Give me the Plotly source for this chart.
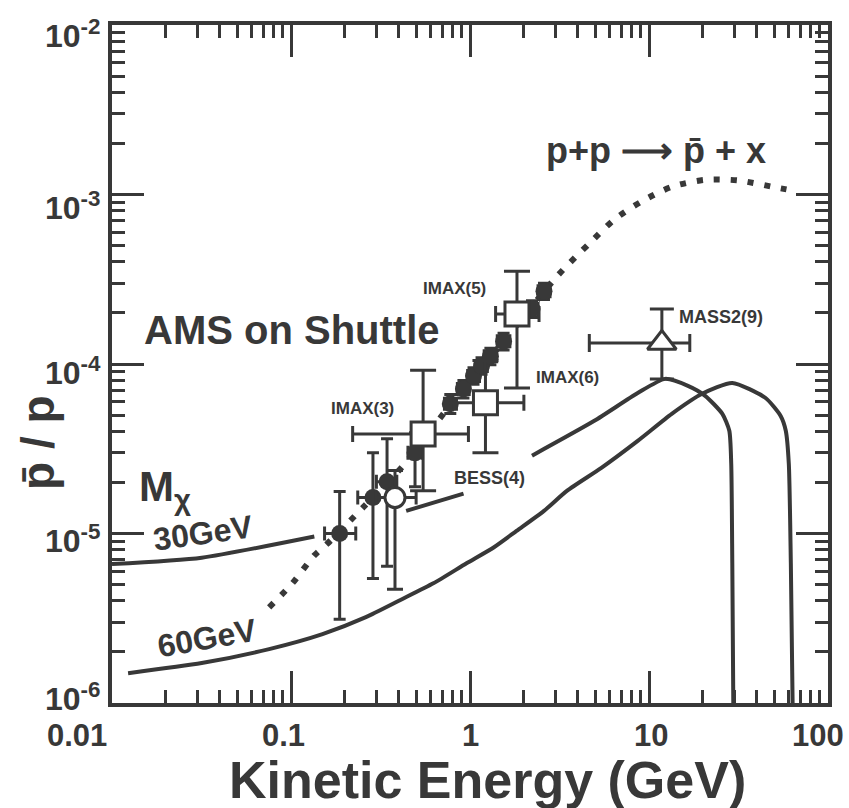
import math
import plotly.graph_objects as go

INK = "#383838"
FONT = "Liberation Sans, Arial, sans-serif"

# ---------------- data ----------------
# AMS on Shuttle projection (filled circles)
ams_E = [0.187, 0.287, 0.344, 0.493, 0.776, 0.919, 1.046, 1.16, 1.30, 1.54, 2.22, 2.59]
ams_r = [1.0e-5, 1.63e-5, 2.02e-5, 2.99e-5, 5.82e-5, 7.13e-5, 8.5e-5, 9.73e-5, 1.11e-4, 1.36e-4, 2.11e-4, 2.69e-4]
ams_r_hi = [1.77e-5, 2.99e-5, 3.62e-5, 3.93e-5, 6.6e-5, 8.0e-5, 9.5e-5, 1.09e-4, 1.24e-4, 1.52e-4, 2.36e-4, 3.0e-4]
ams_r_lo = [3.12e-6, 5.43e-6, 6.4e-6, 1.89e-5, 5.1e-5, 6.3e-5, 7.6e-5, 8.7e-5, 9.9e-5, 1.21e-4, 1.88e-4, 2.4e-4]
ams_E_lo = [0.154, 0.236, 0.30, 0.45, 0.72, 0.85, 0.97, 1.07, 1.20, 1.42, 2.05, 2.40]
ams_E_hi = [0.23, 0.35, 0.39, 0.54, 0.84, 0.99, 1.13, 1.25, 1.41, 1.67, 2.40, 2.80]

# IMAX (open squares): IMAX(3), IMAX(6), IMAX(5)
imax_E = [0.547, 1.22, 1.83]
imax_r = [3.87e-5, 5.9e-5, 1.97e-4]
imax_r_hi = [9.2e-5, 1.05e-4, 3.52e-4]
imax_r_lo = [1.79e-5, 2.99e-5, 7.23e-5]
imax_E_lo = [0.221, 0.78, 1.39]
imax_E_hi = [0.98, 2.0, 2.43]

# BESS(4) (open circle)
bess_E = [0.381]
bess_r = [1.63e-5]
bess_r_hi = [2.35e-5]
bess_r_lo = [4.69e-6]
bess_E_lo = [0.30]
bess_E_hi = [0.50]

# MASS2(9) (open triangle)
mass_E = [11.8]
mass_r = [1.33e-4]
mass_r_hi = [2.11e-4]
mass_r_lo = [8.17e-5]
mass_E_lo = [4.64]
mass_E_hi = [16.9]

# secondary production p+p -> pbar + x (dotted)
sec_E = [0.0755, 0.1017, 0.135, 0.16, 0.252, 0.423, 0.807, 1.54, 3.07, 4.65, 6.41, 9.1, 13.4, 20.6, 31.6, 49.1, 62.0]
sec_r = [3.67e-6, 5.08e-6, 7.43e-6, 8.73e-6, 1.42e-5, 2.51e-5, 6.05e-5, 1.36e-4, 3.3e-4, 5.15e-4, 7.13e-4,
         9.1e-4, 1.11e-3, 1.22e-3, 1.21e-3, 1.11e-3, 1.06e-3]

# neutralino annihilation, M = 30 GeV (gaps where labels / points sit)
m30_E = [0.01, 0.0317, 0.135, None, 0.44, 0.92, None, 2.22, 4.95, 8.65, 12.3, 16.5, 20.6, 25.7, 28.1, 28.8, 29.2, 29.6]
m30_r = [6.6e-6, 7.2e-6, 9.6e-6, None, 1.36e-5, 1.72e-5, None, 2.88e-5, 4.62e-5, 6.74e-5, 8.17e-5, 7.43e-5,
         6.49e-5, 5.08e-5, 4.04e-5, 2.58e-5, 6.67e-6, 9e-7]

# neutralino annihilation, M = 60 GeV
m60_E = [0.0123, 0.0317, 0.0755, 0.150, 0.262, 0.406, 0.624, 0.956, 1.355, 1.83, 2.59, 3.49, 5.42, 8.65, 13.4,
         19.8, 29.2, 44.8, 54.4, 58.1, 60.4, 62.0, 63.5]
m60_r = [1.5e-6, 1.72e-6, 2.08e-6, 2.55e-6, 3.21e-6, 4.04e-6, 5.08e-6, 6.67e-6, 8.27e-6, 1.04e-5, 1.36e-5, 1.79e-5,
         2.44e-5, 3.52e-5, 5.08e-5, 6.67e-5, 7.73e-5, 6.3e-5, 4.94e-5, 4.04e-5, 2.58e-5, 6.67e-6, 9e-7]

x_ticks = [0.01, 0.1, 1, 10, 100]
x_ticktext = ["0.01", "0.1", "1", "10", "100"]
y_ticks = [1e-6, 1e-5, 1e-4, 1e-3, 1e-2]
y_ticktext = ["10<sup>-6</sup>", "10<sup>-5</sup>", "10<sup>-4</sup>", "10<sup>-3</sup>", "10<sup>-2</sup>"]
x_minor = [m * 10.0 ** k for k in range(-2, 2) for m in range(2, 10)]
y_minor = [m * 10.0 ** k for k in range(-6, -2) for m in range(2, 10)]

# label nudges (pixels) to mimic the hand-set tick labels of the original
x_label_shift = [-35, -8, 0, 2, -10]
y_label_shift = [6, -5, -7, -11, -9]

# plot-area geometry in pixels
L, R, T, B = 112, 828, 25, 703
W, H = 849, 808


def up(hi, v):
    return [h - a for h, a in zip(hi, v)]


def down(lo, v):
    return [a - l for l, a in zip(lo, v)]


fig = go.Figure()

fig.add_trace(go.Scatter(x=m30_E, y=m30_r, mode="lines", connectgaps=False, name="M 30 GeV",
                         line=dict(color=INK, width=4, shape="spline", smoothing=0.6), hoverinfo="skip"))
fig.add_trace(go.Scatter(x=m60_E, y=m60_r, mode="lines", name="M 60 GeV",
                         line=dict(color=INK, width=4, shape="spline", smoothing=0.6), hoverinfo="skip"))
fig.add_trace(go.Scatter(x=sec_E, y=sec_r, mode="lines", name="p+p secondary",
                         line=dict(color=INK, width=6, dash="6px,11px", shape="spline", smoothing=0.8),
                         hoverinfo="skip"))

err_common = dict(type="data", symmetric=False, color=INK, thickness=3)

fig.add_trace(go.Scatter(
    x=ams_E, y=ams_r, mode="markers", name="AMS on Shuttle",
    marker=dict(symbol="circle", size=17, color=INK, line=dict(width=0)),
    error_y=dict(array=up(ams_r_hi, ams_r), arrayminus=down(ams_r_lo, ams_r), width=6, **err_common),
    error_x=dict(array=up(ams_E_hi, ams_E), arrayminus=down(ams_E_lo, ams_E), width=7, **err_common),
))
fig.add_trace(go.Scatter(
    x=bess_E, y=bess_r, mode="markers", name="BESS",
    marker=dict(symbol="circle", size=20, color="white", line=dict(width=3, color=INK)),
    error_y=dict(array=up(bess_r_hi, bess_r), arrayminus=down(bess_r_lo, bess_r), width=8, **err_common),
    error_x=dict(array=up(bess_E_hi, bess_E), arrayminus=down(bess_E_lo, bess_E), width=7, **err_common),
))
fig.add_trace(go.Scatter(
    x=imax_E, y=imax_r, mode="markers", name="IMAX",
    marker=dict(symbol="square", size=24, color="white", line=dict(width=3, color=INK)),
    error_y=dict(array=up(imax_r_hi, imax_r), arrayminus=down(imax_r_lo, imax_r), width=13, **err_common),
    error_x=dict(array=up(imax_E_hi, imax_E), arrayminus=down(imax_E_lo, imax_E), width=8, **err_common),
))
fig.add_trace(go.Scatter(
    x=mass_E, y=mass_r, mode="markers", name="MASS2",
    marker=dict(symbol="triangle-up", size=25, color="white", line=dict(width=3, color=INK)),
    error_y=dict(array=up(mass_r_hi, mass_r), arrayminus=down(mass_r_lo, mass_r), width=12, **err_common),
    error_x=dict(array=up(mass_E_hi, mass_E), arrayminus=down(mass_E_lo, mass_E), width=9, **err_common),
))

axis_common = dict(
    type="log", showgrid=False, zeroline=False, showline=True, linecolor=INK, linewidth=3.5,
    mirror="ticks", ticks="inside", ticklen=32, tickwidth=2.5, tickcolor=INK, showticklabels=False,
    tickfont=dict(family=FONT, size=31, color=INK),
    title=dict(text="", font=dict(family=FONT, size=30, color=INK)),
)

fig.update_xaxes(range=[-2, 2], tickmode="array", tickvals=x_ticks,
                 minor=dict(tickmode="array", tickvals=x_minor, ticks="inside", ticklen=13, tickwidth=2.5,
                            tickcolor=INK),
                 **axis_common)
fig.update_yaxes(range=[-6, -2], tickmode="array", tickvals=y_ticks,
                 minor=dict(tickmode="array", tickvals=y_minor, ticks="inside", ticklen=13, tickwidth=2.5,
                            tickcolor=INK),
                 **axis_common)

for v, t, s in zip(x_ticks, x_ticktext, x_label_shift):
    fig.add_annotation(text=t, x=math.log10(v), xref="x", y=0, yref="paper", yanchor="top", xanchor="center",
                       yshift=-13, xshift=s, showarrow=False,
                       font=dict(family=FONT, size=31, color=INK, weight="bold"))
for v, t, s in zip(y_ticks, y_ticktext, y_label_shift):
    fig.add_annotation(text=t, x=0, xref="paper", y=math.log10(v), yref="y", xanchor="right", yanchor="middle",
                       xshift=-9, yshift=s, showarrow=False,
                       font=dict(family=FONT, size=32, color=INK, weight="bold"))


def lx(xp):
    # pixel column -> log10(E) on the x axis
    return -2 + 4.0 * (xp - L) / float(R - L)


def ly(yp):
    # pixel row -> log10(ratio) on the y axis
    return -6 + 4.0 * (B - yp) / float(B - T)


def label(text, x, y, size, angle=None, xanchor="center"):
    kw = dict(text=text, x=lx(x), y=ly(y), xref="x", yref="y", showarrow=False,
              xanchor=xanchor, yanchor="middle",
              font=dict(family=FONT, size=size, color=INK, weight="bold"))
    if angle is not None:
        kw["textangle"] = angle
    fig.add_annotation(**kw)


label("AMS on Shuttle", 292, 330, 40)
label("M<sub>χ</sub>", 137, 489, 42, xanchor="left")
label("30GeV", 203, 533, 32, angle=-8)
label("60GeV", 207, 638, 32, angle=-10)
label("IMAX(5)", 454, 288, 17)
label("IMAX(6)", 567, 377, 17)
label("IMAX(3)", 362, 408, 17)
label("BESS(4)", 489, 478, 18)
label("MASS2(9)", 721, 317, 18)
label("p+p \u27f6 p\u0304 + x", 656, 150, 36)

# axis titles (outside the plotting area)
fig.add_annotation(text="Kinetic Energy (GeV)", x=(487 - L) / float(R - L), y=(B - 780) / float(B - T),
                   xref="paper", yref="paper", showarrow=False, xanchor="center", yanchor="middle",
                   font=dict(family=FONT, size=52, color=INK, weight="bold"))
fig.add_annotation(text="p\u0304 / p", x=(38 - L) / float(R - L), y=(B - 443) / float(B - T),
                   xref="paper", yref="paper", showarrow=False, xanchor="center", yanchor="middle",
                   textangle=-90, font=dict(family=FONT, size=46, color=INK, weight="bold"))

fig.update_layout(
    width=W, height=H,
    margin=dict(l=L, r=W - R, t=T, b=H - B),
    paper_bgcolor="white", plot_bgcolor="white",
    font=dict(family=FONT, size=30, color=INK),
    hoverlabel=dict(font=dict(family=FONT, size=14)),
    legend=dict(font=dict(family=FONT, size=14)),
    showlegend=False,
)

fig.write_html("out.html")
